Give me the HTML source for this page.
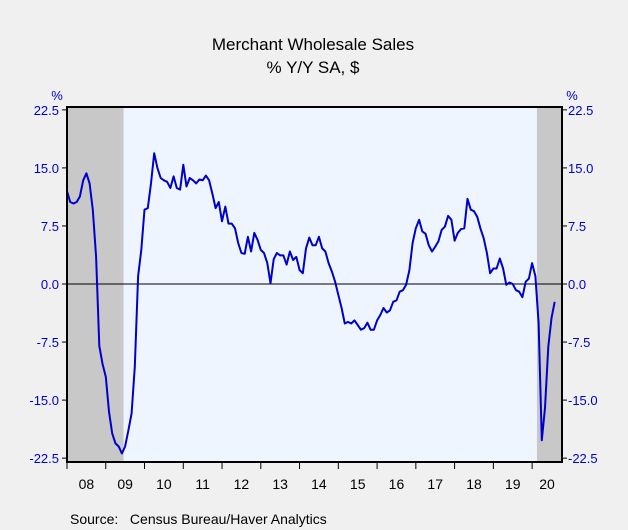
<!DOCTYPE html>
<html><head><meta charset="utf-8"><style>
body{margin:0;background:#f0f0f0;}
svg{display:block;font-family:"Liberation Sans",Arial,sans-serif;}
</style></head><body>
<svg width="628" height="530" viewBox="0 0 628 530">
<rect x="0" y="0" width="628" height="530" fill="#f0f0f0"/>
<text x="313" y="50" text-anchor="middle" font-size="17" fill="#000">Merchant Wholesale Sales</text>
<text x="313" y="73" text-anchor="middle" font-size="17" fill="#000">% Y/Y   SA, $</text>
<text x="57" y="100" text-anchor="middle" font-size="13" fill="#0000cc">%</text>
<text x="572" y="100" text-anchor="middle" font-size="13" fill="#0000cc">%</text>
<g id="plot"></g>
<text x="70" y="524" font-size="14" fill="#000" xml:space="preserve">Source:   Census Bureau/Haver Analytics</text>
</svg>
<script>
const values=[12.0,10.6,10.4,10.6,11.3,13.4,14.3,13.0,9.6,3.5,-8.0,-10.3,-12.0,-16.5,-19.3,-20.6,-21.0,-21.9,-21.0,-18.9,-16.7,-10.7,1.0,4.4,9.6,9.8,13.0,16.9,15.0,13.7,13.4,13.2,12.4,13.9,12.4,12.2,15.4,12.6,13.7,13.4,13.0,13.5,13.4,14.0,13.4,11.7,9.8,10.6,8.1,10.0,7.8,7.8,7.2,5.3,4.0,3.9,6.1,4.2,6.6,5.7,4.4,4.0,2.7,0.1,3.2,4.0,3.7,3.7,2.5,4.2,3.1,3.5,1.8,1.4,4.6,6.0,5.0,5.0,6.1,4.6,4.2,2.7,1.6,0.3,-1.4,-3.1,-5.1,-4.9,-5.1,-4.7,-5.3,-5.9,-5.7,-5.0,-5.9,-5.9,-4.7,-4.0,-3.1,-3.7,-3.4,-2.3,-2.1,-1.0,-0.8,-0.1,1.8,5.3,7.2,8.3,6.8,6.5,5.0,4.2,4.8,5.5,7.0,7.4,8.8,8.3,5.6,6.6,7.1,7.2,11.0,9.6,9.4,8.7,7.2,5.9,4.0,1.4,2.0,2.0,3.3,2.0,-0.1,0.2,0.0,-0.8,-1.0,-1.7,0.3,0.7,2.7,1.0,-5.0,-20.2,-16.0,-8.1,-4.4,-2.3];
const yTicks=[22.5,15.0,7.5,0.0,-7.5,-15.0,-22.5];
const yearLabels=["08","09","10","11","12","13","14","15","16","17","18","19","20"];
const recessions=[[0,17.5],[145.5,156]];
const startYear=2008;

const NS="http://www.w3.org/2000/svg";
const L=67,R=562,T=107,B=462;
const X0=67,PX=3.23;
const yZero=284,YS=7.74;
const x=m=>X0+m*PX;
const y=v=>yZero-v*YS;
const g=document.getElementById('plot');
function mk(tag,attrs,parent){const e=document.createElementNS(NS,tag);for(const k in attrs)e.setAttribute(k,attrs[k]);(parent||g).appendChild(e);return e;}

let bg=mk('rect',{x:L,y:T,width:R-L,height:B-T,fill:'#eef5ff'});


recessions.forEach(r=>{
  const x1=Math.max(L,x(r[0])),x2=Math.min(R,x(r[1]));
  const s=mk('rect',{x:x1,y:T,width:x2-x1,height:B-T,fill:'#c8c8c8'});
  
  
});
let zl=mk('line',{x1:L,x2:R,y1:y(0),y2:y(0),stroke:'#000','stroke-width':1});


const pts=values.map((v,i)=>x(i).toFixed(1)+','+y(v).toFixed(1)).join(' ');
let pl=mk('polyline',{points:pts,fill:'none',stroke:'#0000cc','stroke-width':2,'stroke-linejoin':'round'});


let fr=mk('rect',{x:L,y:T,width:R-L,height:B-T,fill:'none',stroke:'#000','stroke-width':2});


yTicks.forEach(v=>{
  const yy=y(v);
  const t1=mk('line',{x1:L-5,x2:L,y1:yy,y2:yy,stroke:'#000','stroke-width':1});
  
  
  const t2=mk('line',{x1:R,x2:R+5,y1:yy,y2:yy,stroke:'#000','stroke-width':1});
  
  
  const lb=mk('text',{x:L-8,y:yy+5,'text-anchor':'end','font-size':13,fill:'#0000cc'});
  lb.textContent=v.toFixed(1);
  
  
  const rb=mk('text',{x:R+6,y:yy+5,'text-anchor':'start','font-size':13,fill:'#0000cc'});
  rb.textContent=v.toFixed(1);
  
  
});
yearLabels.forEach((lab,i)=>{
  const xs=x(i*12);
  const tk=mk('line',{x1:xs,x2:xs,y1:B,y2:B+7,stroke:'#000','stroke-width':1});
  
  
  const xe=Math.min(R,x(i*12+12));
  const t=mk('text',{x:(xs+xe)/2,y:489,'text-anchor':'middle','font-size':14,fill:'#000'});
  t.textContent=lab;
  
  
});
</script>
</body></html>
